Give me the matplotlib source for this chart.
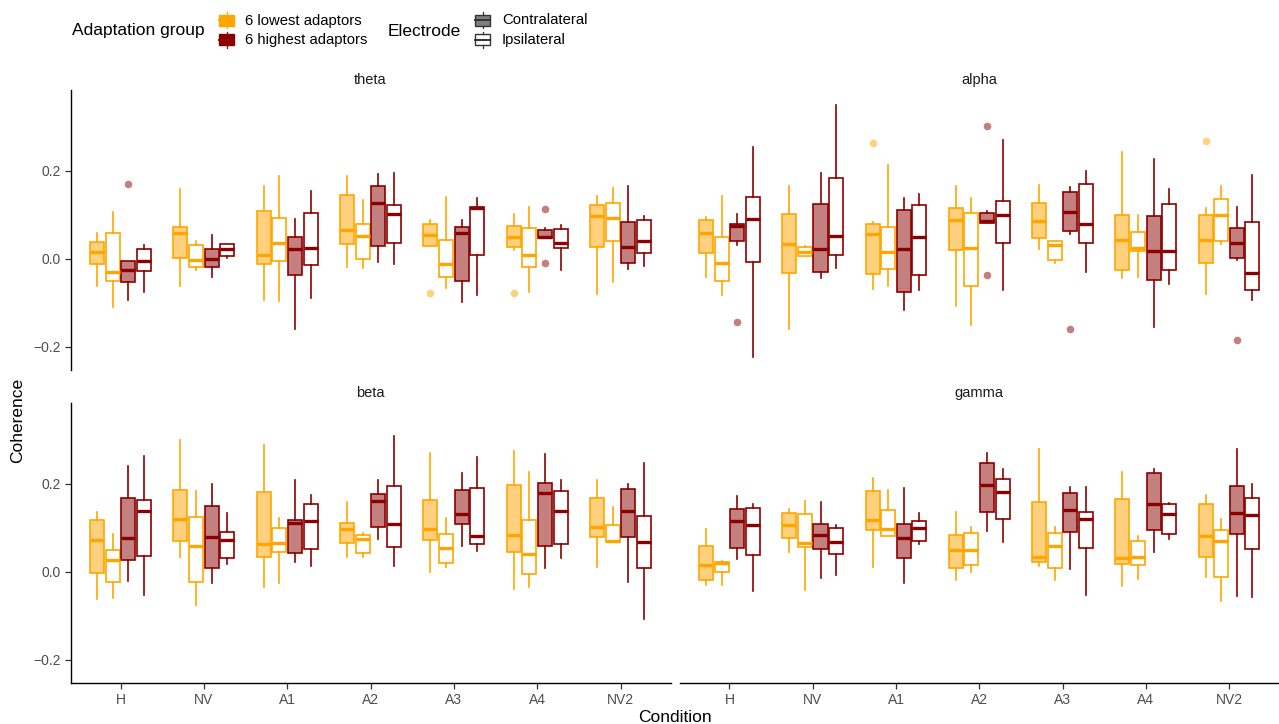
import matplotlib
matplotlib.use("Agg")
import matplotlib.pyplot as plt
from matplotlib.patches import Rectangle
from matplotlib.colors import to_rgba
import numpy as np

plt.rcParams['font.family'] = ['Liberation Sans', 'DejaVu Sans']

# DATA: per band, per series -> 7 conditions of (whislo, q1, med, q3, whishi)
conditions = ["H", "NV", "A1", "A2", "A3", "A4", "NV2"]
bands = ["theta", "alpha", "beta", "gamma"]
series = ["low_contra", "low_ipsi", "high_contra", "high_ipsi"]

theta_low_contra = [(-0.061, -0.0105, 0.0165, 0.0375, 0.058), (-0.061, 0.002, 0.058, 0.072, 0.159),
                    (-0.094, -0.0105, 0.008, 0.109, 0.166), (-0.018, 0.034, 0.067, 0.145, 0.189),
                    (0.029, 0.029, 0.055, 0.079, 0.088), (0.020, 0.027, 0.051, 0.074, 0.103),
                    (-0.080, 0.027, 0.097, 0.123, 0.144)]
theta_low_ipsi = [(-0.108, -0.051, -0.030, 0.060, 0.106), (-0.024, -0.018, -0.003, 0.031, 0.040),
                  (-0.095, -0.004, 0.037, 0.094, 0.189), (-0.021, -0.001, 0.053, 0.080, 0.133),
                  (-0.067, -0.040, -0.0105, 0.044, 0.142), (-0.076, -0.018, 0.009, 0.070, 0.119),
                  (-0.052, 0.040, 0.094, 0.127, 0.162)]
theta_high_contra = [(-0.094, -0.053, -0.024, -0.005, -0.005), (-0.041, -0.018, 0.001, 0.022, 0.054),
                     (-0.160, -0.037, 0.022, 0.049, 0.090), (-0.0075, 0.029, 0.127, 0.166, 0.193),
                     (-0.097, -0.051, 0.058, 0.073, 0.088), (0.048, 0.048, 0.051, 0.065, 0.070),
                     (-0.022, -0.010, 0.028, 0.083, 0.166)]
theta_high_ipsi = [(-0.075, -0.028, -0.005, 0.023, 0.031), (0.0015, 0.006, 0.022, 0.033, 0.034),
                   (-0.088, -0.013, 0.025, 0.104, 0.154), (-0.0105, 0.037, 0.102, 0.123, 0.196),
                   (-0.082, 0.008, 0.115, 0.118, 0.139), (-0.024, 0.024, 0.037, 0.069, 0.078),
                   (-0.017, 0.014, 0.042, 0.088, 0.098)]

alpha_low_contra = [(-0.041, 0.0135, 0.060, 0.088, 0.096), (-0.160, -0.032, 0.035, 0.103, 0.165),
                    (-0.068, -0.033, 0.057, 0.080, 0.084), (-0.106, 0.0195, 0.088, 0.115, 0.166),
                    (0.022, 0.048, 0.087, 0.127, 0.169), (-0.043, -0.025, 0.043, 0.099, 0.243),
                    (-0.079, -0.009, 0.043, 0.101, 0.115)]
alpha_low_ipsi = [(-0.082, -0.050, -0.009, 0.050, 0.144), (0.0075, 0.0075, 0.016, 0.027, 0.030),
                  (-0.061, -0.023, 0.017, 0.073, 0.213), (-0.150, -0.062, 0.025, 0.105, 0.139),
                  (-0.0097, -0.003, 0.031, 0.042, 0.042), (-0.040, 0.018, 0.025, 0.062, 0.100),
                  (0.034, 0.041, 0.100, 0.136, 0.166)]
alpha_high_contra = [(0.031, 0.041, 0.075, 0.079, 0.103), (-0.043, -0.030, 0.022, 0.125, 0.196),
                     (-0.115, -0.074, 0.022, 0.112, 0.139), (0.082, 0.082, 0.087, 0.105, 0.110),
                     (0.057, 0.064, 0.107, 0.152, 0.163), (-0.154, -0.048, 0.018, 0.097, 0.228),
                     (-0.002, 0.0015, 0.036, 0.070, 0.118)]
alpha_high_ipsi = [(-0.222, -0.006, 0.091, 0.141, 0.255), (-0.021, 0.009, 0.052, 0.184, 0.350),
                   (-0.070, -0.037, 0.050, 0.123, 0.148), (-0.070, 0.037, 0.099, 0.132, 0.271),
                   (-0.030, 0.037, 0.079, 0.170, 0.201), (-0.056, -0.025, 0.018, 0.124, 0.158),
                   (-0.093, -0.070, -0.031, 0.083, 0.190)]

beta_low_contra = [(-0.062, -0.003, 0.072, 0.119, 0.137), (0.034, 0.070, 0.121, 0.186, 0.299),
                   (-0.033, 0.033, 0.064, 0.182, 0.289), (0.033, 0.066, 0.097, 0.112, 0.160),
                   (-0.001, 0.073, 0.097, 0.164, 0.270), (-0.038, 0.045, 0.085, 0.198, 0.274),
                   (0.012, 0.079, 0.102, 0.169, 0.210)]
beta_low_ipsi = [(-0.058, -0.023, 0.027, 0.051, 0.086), (-0.076, -0.022, 0.059, 0.126, 0.184),
                 (-0.024, 0.045, 0.066, 0.101, 0.123), (0.033, 0.044, 0.076, 0.083, 0.088),
                 (0.012, 0.021, 0.055, 0.086, 0.122), (-0.033, -0.005, 0.042, 0.118, 0.227),
                 (0.068, 0.068, 0.070, 0.106, 0.148)]
beta_high_contra = [(-0.020, 0.028, 0.078, 0.168, 0.240), (-0.025, 0.009, 0.079, 0.149, 0.199),
                    (0.023, 0.044, 0.111, 0.118, 0.209), (0.074, 0.102, 0.161, 0.178, 0.208),
                    (0.059, 0.108, 0.132, 0.186, 0.226), (0.0097, 0.058, 0.179, 0.203, 0.268),
                    (-0.022, 0.079, 0.139, 0.189, 0.201)]
beta_high_ipsi = [(-0.053, 0.037, 0.139, 0.163, 0.263), (0.019, 0.031, 0.073, 0.091, 0.133),
                  (0.013, 0.052, 0.117, 0.155, 0.175), (0.0135, 0.056, 0.109, 0.196, 0.308),
                  (0.048, 0.064, 0.082, 0.190, 0.262), (0.031, 0.064, 0.138, 0.184, 0.210),
                  (-0.106, 0.009, 0.069, 0.128, 0.247)]

gamma_low_contra = [(-0.030, -0.018, 0.017, 0.058, 0.098), (0.046, 0.078, 0.106, 0.134, 0.143),
                    (0.012, 0.095, 0.118, 0.184, 0.213), (-0.019, 0.008, 0.049, 0.083, 0.136),
                    (0.014, 0.022, 0.035, 0.159, 0.280), (-0.032, 0.019, 0.031, 0.166, 0.228),
                    (-0.011, 0.033, 0.082, 0.154, 0.175)]
gamma_low_ipsi = [(-0.029, -0.001, 0.0195, 0.022, 0.026), (-0.040, 0.056, 0.066, 0.131, 0.162),
                  (0.081, 0.081, 0.098, 0.141, 0.186), (0.001, 0.016, 0.050, 0.088, 0.103),
                  (-0.019, 0.008, 0.060, 0.088, 0.103), (-0.016, 0.015, 0.034, 0.070, 0.081),
                  (-0.065, -0.012, 0.070, 0.096, 0.121)]
gamma_high_contra = [(0.029, 0.054, 0.115, 0.144, 0.173), (-0.014, 0.052, 0.084, 0.109, 0.160),
                     (-0.024, 0.031, 0.077, 0.109, 0.190), (0.094, 0.137, 0.198, 0.247, 0.270),
                     (0.006, 0.091, 0.142, 0.180, 0.193), (0.046, 0.095, 0.154, 0.225, 0.233),
                     (-0.055, 0.087, 0.135, 0.195, 0.279)]
gamma_high_ipsi = [(-0.043, 0.038, 0.106, 0.145, 0.154), (-0.0075, 0.040, 0.068, 0.099, 0.106),
                   (0.064, 0.070, 0.100, 0.115, 0.133), (0.068, 0.120, 0.182, 0.212, 0.235),
                   (-0.052, 0.055, 0.120, 0.136, 0.193), (0.076, 0.086, 0.131, 0.155, 0.157),
                   (-0.057, 0.052, 0.130, 0.169, 0.199)]

# outliers: (band, condition, series, value)
outliers = [("theta", "H", "high_contra", 0.171), ("theta", "A3", "low_contra", -0.078),
            ("theta", "A4", "low_contra", -0.078), ("theta", "A4", "high_contra", 0.114),
            ("theta", "A4", "high_contra", -0.009),
            ("alpha", "H", "high_contra", -0.144), ("alpha", "A1", "low_contra", 0.264),
            ("alpha", "A2", "high_contra", 0.303), ("alpha", "A2", "high_contra", -0.036),
            ("alpha", "A3", "high_contra", -0.160), ("alpha", "NV2", "low_contra", 0.268),
            ("alpha", "NV2", "high_contra", -0.185)]

stats_by_band = {
    "theta": [theta_low_contra, theta_low_ipsi, theta_high_contra, theta_high_ipsi],
    "alpha": [alpha_low_contra, alpha_low_ipsi, alpha_high_contra, alpha_high_ipsi],
    "beta": [beta_low_contra, beta_low_ipsi, beta_high_contra, beta_high_ipsi],
    "gamma": [gamma_low_contra, gamma_low_ipsi, gamma_high_contra, gamma_high_ipsi],
}

LOW = "#FFA500"
HIGH = "#8B0000"
colors = [LOW, LOW, HIGH, HIGH]
filled = [True, False, True, False]
offsets = [-0.28125, -0.09375, 0.09375, 0.28125]
bw = 0.169

W, H = 1279, 724
fig = plt.figure(figsize=(W / 100, H / 100), dpi=100)

# panel geometry in pixels
px_left = [(70.5, 670.5), (679.5, 1279)]
px_top = [(89.6, 370.3), (402.6, 683.3)]
ylim = (-0.253, 0.385)

for k, band in enumerate(bands):
    r, c = divmod(k, 2)
    x0, x1 = px_left[c]
    y0, y1 = px_top[r]
    ax = fig.add_axes([x0 / W, 1 - y1 / H, (x1 - x0) / W, (y1 - y0) / H])
    for s, name in enumerate(series):
        col = colors[s]
        fc = to_rgba(col, 0.5) if filled[s] else "white"
        st = []
        for i, (lo, q1, med, q3, hi) in enumerate(stats_by_band[band][s]):
            fl = [o[3] for o in outliers if o[0] == band and o[1] == conditions[i] and o[2] == name]
            st.append(dict(whislo=lo, q1=q1, med=med, q3=q3, whishi=hi, fliers=fl))
        ax.bxp(st, positions=np.arange(7) + offsets[s], widths=bw, patch_artist=True,
               showcaps=False,
               boxprops=dict(facecolor=fc, edgecolor=col, linewidth=1.2),
               medianprops=dict(color=col, linewidth=2.4, solid_capstyle="butt"),
               whiskerprops=dict(color=col, linewidth=1.2),
               flierprops=dict(marker="o", markerfacecolor=to_rgba(col, 0.5),
                               markeredgecolor="none", markersize=5.5))
    ax.set_xlim(-0.6, 6.6)
    ax.set_ylim(*ylim)
    for sp in ["top", "right"]:
        ax.spines[sp].set_visible(False)
    ax.spines["left"].set_visible(c == 0)
    ax.spines["bottom"].set_visible(r == 1)
    ax.spines["left"].set_linewidth(1.0)
    ax.spines["bottom"].set_linewidth(1.0)
    ax.set_yticks([-0.2, 0.0, 0.2])
    ax.set_yticklabels(["\u22120.2", "0.0", "0.2"])
    ax.set_xticks(np.arange(7))
    ax.set_xticklabels(conditions)
    ax.tick_params(axis="both", length=4, width=0.9, color="#333333",
                   labelcolor="#4D4D4D", labelsize=10, pad=3)
    ax.tick_params(axis="y", left=(c == 0), labelleft=(c == 0))
    ax.tick_params(axis="x", bottom=(r == 1), labelbottom=(r == 1))
    ax.set_facecolor("none")
    # strip label about 10 px above the panel
    ax.text(0.5, 1 + 9.5 / (y1 - y0), band, transform=ax.transAxes,
            ha="center", va="center", fontsize=10.5, color="#1A1A1A")

fig.text(18 / W, 1 - 420 / H, "Coherence", rotation=90, ha="center", va="center", fontsize=12.5)
fig.text(675 / W, 1 - 717 / H, "Condition", ha="center", va="center", fontsize=12.5)

# legend drawn in pixel coordinates
lg = fig.add_axes([0, 0, 1, 1])
lg.set_xlim(0, W)
lg.set_ylim(H, 0)
lg.axis("off")
lg.set_facecolor("none")


def key(cx, cy, fc, ec):
    lg.plot([cx, cx], [cy - 8, cy - 5.5], color=ec, lw=0.9)
    lg.plot([cx, cx], [cy + 5.5, cy + 8], color=ec, lw=0.9)
    lg.add_patch(Rectangle((cx - 7.5, cy - 5.5), 15, 11, facecolor=fc, edgecolor=ec, lw=1.0))
    lg.plot([cx - 7.5, cx + 7.5], [cy, cy], color=ec, lw=1.4)


lg.text(72, 31, "Adaptation group", ha="left", va="center", fontsize=12.5)
key(226.5, 20.3, LOW, LOW)
key(226.5, 39.8, HIGH, HIGH)
lg.text(245, 20.5, "6 lowest adaptors", ha="left", va="center", fontsize=10.7)
lg.text(245, 40, "6 highest adaptors", ha="left", va="center", fontsize=10.7)
lg.text(388, 31, "Electrode", ha="left", va="center", fontsize=12.5)
key(482.5, 20.3, "#7F7F7F", "#333333")
key(482.5, 39.8, "white", "#333333")
lg.text(502, 20.5, "Contralateral", ha="left", va="center", fontsize=10.7)
lg.text(502, 40, "Ipsilateral", ha="left", va="center", fontsize=10.7)

fig.savefig("out.png", dpi=100)
